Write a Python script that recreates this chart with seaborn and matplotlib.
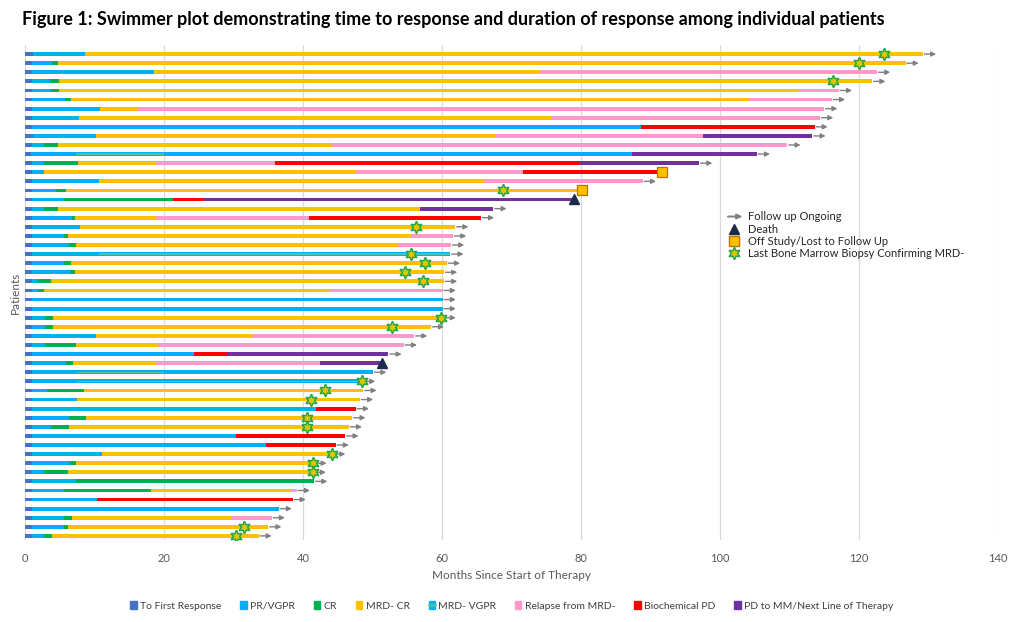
import matplotlib
matplotlib.use('Agg')
import matplotlib.pyplot as plt
import matplotlib.patches as mpatches
from matplotlib.lines import Line2D
from matplotlib.legend_handler import HandlerPatch, HandlerTuple
import seaborn as sns

# stage codes -> legend names
stage_names = {
    'F': 'To First Response', 'P': 'PR/VGPR', 'C': 'CR', 'M': 'MRD- CR',
    'V': 'MRD- VGPR', 'R': 'Relapse from MRD-', 'B': 'Biochemical PD',
    'D': 'PD to MM/Next Line of Therapy',
}
stage_colors = {
    'F': '#4472C4', 'P': '#00B0F0', 'C': '#00B050', 'M': '#FFC000',
    'V': '#00B0F0', 'R': '#FF99CC', 'B': '#FF0000', 'D': '#7030A0',
}
VGPR_STRIPE = '#4DC3A6'

# months to first response (dark blue stub), top patient first
first_resp = [1.2, 1.0, 1.0, 1.0, 1.0, 1.0, 1.0, 1.0, 1.0, 1.1, 1.0, 0.9, 1.0, 1.0,
              1.0, 1.0, 1.0, 1.0, 1.0, 1.0, 1.0, 1.0, 1.0, 1.0, 1.0, 1.0, 1.0, 1.0,
              1.0, 1.0, 1.0, 1.0, 1.0, 1.0, 1.0, 1.0, 1.0, 1.0, 1.0, 1.0, 1.0, 1.0,
              1.0, 1.0, 1.0, 1.0, 1.0, 1.0, 1.0, 1.0, 1.0, 1.0, 1.0, 1.0]

# (stage, end month) pairs after first response
phases = [
    [('P', 8.6), ('M', 129.2)],
    [('P', 3.9), ('C', 4.8), ('M', 126.7)],
    [('P', 18.5), ('M', 74.1), ('R', 122.6)],
    [('P', 3.6), ('C', 4.9), ('M', 121.9)],
    [('P', 3.7), ('C', 4.9), ('M', 111.4), ('R', 117.1)],
    [('P', 5.8), ('C', 6.6), ('M', 104.2), ('R', 116.1)],
    [('P', 10.8), ('M', 16.2), ('R', 115.0)],
    [('P', 7.7), ('M', 75.8), ('R', 114.4)],
    [('P', 88.7), ('B', 113.6)],
    [('P', 10.2), ('M', 67.8), ('R', 97.5), ('D', 113.3)],
    [('P', 2.8), ('C', 4.7), ('M', 44.2), ('R', 109.7)],
    [('P', 7.3), ('V', 20.0), ('P', 87.3), ('D', 105.3)],
    [('P', 2.8), ('C', 7.6), ('M', 18.8), ('R', 36.0), ('B', 79.9), ('D', 97.0)],
    [('P', 2.8), ('M', 47.6), ('R', 71.6), ('B', 91.7)],
    [('P', 10.7), ('M', 66.1), ('R', 88.9)],
    [('P', 4.5), ('C', 5.9), ('M', 80.1)],
    [('P', 5.6), ('C', 21.3), ('B', 25.7), ('D', 79.0)],
    [('P', 2.8), ('C', 4.7), ('M', 56.9), ('D', 67.4)],
    [('P', 6.8), ('C', 7.2), ('M', 18.9), ('R', 40.8), ('B', 65.6)],
    [('P', 7.9), ('M', 61.9)],
    [('P', 5.6), ('C', 6.2), ('M', 55.6), ('R', 61.6)],
    [('P', 6.3), ('C', 7.4), ('M', 53.6), ('R', 61.3)],
    [('P', 10.6), ('V', 61.2)],
    [('P', 5.6), ('C', 6.6), ('M', 60.7)],
    [('P', 6.5), ('C', 7.2), ('M', 60.3)],
    [('P', 1.9), ('C', 3.8), ('M', 60.3)],
    [('P', 1.9), ('C', 2.8), ('M', 43.8), ('R', 60.1)],
    [('P', 60.1)],
    [('P', 60.1)],
    [('P', 2.9), ('C', 4.0), ('M', 60.1)],
    [('P', 2.9), ('C', 4.0), ('M', 58.4)],
    [('P', 10.2), ('M', 32.7), ('R', 56.0)],
    [('P', 2.9), ('C', 7.4), ('M', 19.1), ('R', 54.5)],
    [('P', 24.3), ('B', 29.1), ('D', 52.3)],
    [('P', 5.9), ('C', 6.9), ('M', 18.9), ('R', 42.5), ('D', 51.3)],
    [('P', 7.3), ('V', 20.0), ('P', 50.1)],
    [('P', 7.3), ('V', 48.5)],
    [('P', 3.1), ('C', 8.5), ('M', 48.7)],
    [('P', 7.5), ('M', 48.2)],
    [('P', 41.8), ('B', 47.6)],
    [('P', 6.3), ('C', 8.8), ('M', 47.1)],
    [('P', 3.7), ('C', 6.3), ('M', 46.6)],
    [('P', 30.3), ('B', 46.1)],
    [('P', 34.7), ('B', 44.7)],
    [('P', 11.1), ('M', 44.2)],
    [('P', 6.5), ('C', 7.4), ('M', 41.5)],
    [('P', 2.8), ('C', 6.2), ('M', 41.4)],
    [('P', 7.4), ('C', 41.6)],
    [('P', 5.6), ('C', 18.1), ('M', 38.1), ('R', 39.1)],
    [('P', 10.4), ('B', 38.5)],
    [('P', 36.5)],
    [('P', 5.6), ('C', 6.7), ('M', 29.8), ('R', 35.5)],
    [('P', 5.6), ('C', 6.2), ('M', 35.0)],
    [('P', 2.7), ('C', 3.9), ('M', 33.6)],
]

# last MRD- marrow biopsy (None = no marker)
mrd_star = [123.6, 120.0, None, 116.3, None, None, None, None, None, None, None, None,
            None, None, None, 68.8, None, None, None, 56.3, None, None, 55.5, 57.6,
            54.7, 57.2, None, None, None, 59.8, 52.8, None, None, None, None, None,
            48.5, 43.2, 41.1, None, 40.6, 40.6, None, None, 44.2, 41.5, 41.4, None,
            None, None, None, None, 31.5, 30.3]

# how follow-up ends: 'arrow' ongoing, 'death', 'off'
last_event = ['arrow'] * 13 + ['off', 'arrow', 'off', 'death'] + ['arrow'] * 17 + \
             ['death'] + ['arrow'] * 19

x_ticks = [0, 20, 40, 60, 80, 100, 120, 140]

sns.set_theme(style='white')
plt.rcParams['font.family'] = ['Lato', 'DejaVu Sans']

fig = plt.figure(figsize=(10.24, 6.22), dpi=100)
ax = fig.add_axes([25 / 1024, 82 / 622, 973 / 1024, 495 / 622])

bar_h = 0.42
grey_txt = '#595959'

for i, segs in enumerate(phases):
    y = i + 1
    ax.barh(y, first_resp[i], left=0, height=bar_h, color=stage_colors['F'], linewidth=0, zorder=3)
    start = first_resp[i]
    for code, end in segs:
        ax.barh(y, end - start, left=start, height=bar_h, color=stage_colors[code],
                linewidth=0, zorder=3)
        if code == 'V':
            ax.barh(y, end - start, left=start, height=bar_h * 0.35, color=VGPR_STRIPE,
                    linewidth=0, zorder=4)
        start = end
    end = segs[-1][1]
    ev = last_event[i]
    if ev == 'arrow':
        ax.annotate('', xy=(end + 1.9, y), xytext=(end + 0.2, y),
                    arrowprops=dict(arrowstyle='-|>', color='#808080', lw=1.0,
                                    mutation_scale=7, shrinkA=0, shrinkB=0), zorder=5)
    elif ev == 'death':
        ax.plot(end, y - 0.05, marker='^', color='#1B2A4A', markersize=7, zorder=6)
    elif ev == 'off':
        ax.plot(end, y, marker='s', markerfacecolor='#FFC000', markeredgecolor='#C07000',
                markeredgewidth=0.9, markersize=7, zorder=6)
    if mrd_star[i] is not None:
        ax.plot(mrd_star[i], y, marker=(6, 1, 0), markerfacecolor='#E6C200',
                markeredgecolor='#22A84A', markeredgewidth=1.1, markersize=9, zorder=7)

ax.set_xlim(0, 140)
ax.set_ylim(54.45, 0)
ax.set_xticks(x_ticks)
ax.set_yticks([])
ax.grid(axis='x', color='#D9D9D9', linewidth=0.9, zorder=0)
for s in ax.spines.values():
    s.set_visible(False)
ax.tick_params(axis='x', length=0, pad=9, labelsize=8, labelcolor=grey_txt)
ax.set_xlabel('Months Since Start of Therapy', fontsize=8.5, color=grey_txt, labelpad=5)
ax.set_ylabel('Patients', fontsize=8.5, color=grey_txt, labelpad=3)

fig.text(22 / 1024, 1 - 19 / 622, 'Figure 1: Swimmer plot demonstrating time to response and '
         'duration of response among individual patients',
         fontsize=12.95, fontweight='bold', color='black', va='center', ha='left')


# inset legend for end-of-follow-up symbols
def make_arrow(legend, orig_handle, xdescent, ydescent, width, height, fontsize):
    return mpatches.FancyArrow(0, 0.5 * height, width, 0, length_includes_head=True,
                               head_width=0.6 * height, head_length=0.4 * width,
                               width=0.08 * height, color='#808080')


arrow_handle = mpatches.Patch(color='#808080')
death_handle = Line2D([], [], linestyle='none', marker='^', color='#1B2A4A', markersize=7)
off_handle = Line2D([], [], linestyle='none', marker='s', markerfacecolor='#FFC000',
                    markeredgecolor='#C07000', markersize=7)
star_handle = Line2D([], [], linestyle='none', marker=(6, 1, 0), markerfacecolor='#E6C200',
                     markeredgecolor='#22A84A', markeredgewidth=1.1, markersize=9)
ax.legend([arrow_handle, death_handle, off_handle, star_handle],
          ['Follow up Ongoing', 'Death', 'Off Study/Lost to Follow Up',
           'Last Bone Marrow Biopsy Confirming MRD-'],
          handler_map={arrow_handle: HandlerPatch(patch_func=make_arrow)},
          loc='upper left', bbox_to_anchor=(0.712, 0.684), frameon=False, fontsize=8,
          handlelength=1.2, handletextpad=0.6, labelspacing=0.1, labelcolor='#262626')

# bottom legend for stages
handles = []
labels = []
for code in ['F', 'P', 'C', 'M', 'V', 'R', 'B', 'D']:
    if code == 'V':
        h = (mpatches.Patch(color=stage_colors['V']),
             Line2D([], [], color=VGPR_STRIPE, lw=2))
    else:
        h = mpatches.Patch(color=stage_colors[code])
    handles.append(h)
    labels.append(stage_names[code])
fig.legend(handles, labels, loc='center', bbox_to_anchor=(0.5, 1 - 606 / 622), ncol=8,
           frameon=False, fontsize=7.5, handlelength=0.6, handleheight=0.7,
           handletextpad=0.35, columnspacing=1.8, labelcolor='#404040',
           handler_map={tuple: HandlerTuple(ndivide=1)})

fig.savefig('out.png', dpi=100)
